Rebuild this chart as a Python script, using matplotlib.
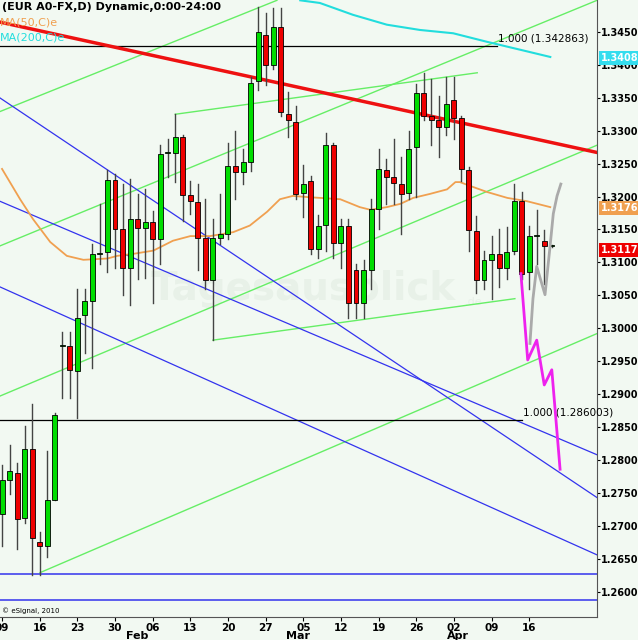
import matplotlib.pyplot as plt
import numpy as np

# daily candles, index 0 = Jan 09
opens = [1.2718, 1.2769, 1.2781, 1.2712, 1.2817, 1.2675, 1.2669, 1.2740, 1.2973, 1.2973,
         1.2935, 1.3020, 1.3041, 1.3113, 1.3116, 1.3225, 1.3151, 1.3091, 1.3166, 1.3153,
         1.3162, 1.3136, 1.3266, 1.3266, 1.3290, 1.3202, 1.3192, 1.3137, 1.3073, 1.3137,
         1.3143, 1.3246, 1.3237, 1.3252, 1.3376, 1.3445, 1.3400, 1.3458, 1.3326, 1.3314,
         1.3205, 1.3224, 1.3121, 1.3157, 1.3279, 1.3130, 1.3156, 1.3088, 1.3038, 1.3088,
         1.3181, 1.3240, 1.3230, 1.3219, 1.3205, 1.3276, 1.3358, 1.3322, 1.3317, 1.3305,
         1.3347, 1.3319, 1.3240, 1.3148, 1.3073, 1.3104, 1.3113, 1.3091, 1.3118, 1.3193,
         1.3085, 1.3140, 1.3133, 1.3125]
highs = [1.2793, 1.2823, 1.2796, 1.2852, 1.2885, 1.2690, 1.2814, 1.2872, 1.2994, 1.2994,
         1.3060, 1.3060, 1.3128, 1.3189, 1.3240, 1.3234, 1.3219, 1.3227, 1.3204, 1.3211,
         1.3178, 1.3279, 1.3287, 1.3325, 1.3294, 1.3224, 1.3219, 1.3196, 1.3166, 1.3204,
         1.3282, 1.3299, 1.3272, 1.3382, 1.3488, 1.3479, 1.3486, 1.3486, 1.3359, 1.3338,
         1.3248, 1.3231, 1.3172, 1.3297, 1.3282, 1.3166, 1.3166, 1.3098, 1.3103, 1.3196,
         1.3272, 1.3257, 1.3287, 1.3260, 1.3299, 1.3371, 1.3388, 1.3378, 1.3352, 1.3381,
         1.3382, 1.3322, 1.3245, 1.3171, 1.3118, 1.3140, 1.3151, 1.3154, 1.3219, 1.3207,
         1.3156, 1.3180, 1.3150, 1.3126]
lows = [1.2669, 1.2748, 1.2665, 1.2704, 1.2626, 1.2626, 1.2653, 1.2740, 1.2894, 1.2894,
        1.2864, 1.2962, 1.2940, 1.3098, 1.3086, 1.3091, 1.3050, 1.3035, 1.3075, 1.3077,
        1.3038, 1.3098, 1.3230, 1.3222, 1.3163, 1.3174, 1.3088, 1.3060, 1.2982, 1.3128,
        1.3136, 1.3196, 1.3219, 1.3239, 1.3362, 1.3370, 1.3393, 1.3322, 1.3291, 1.3196,
        1.3169, 1.3113, 1.3106, 1.3118, 1.3106, 1.3091, 1.3015, 1.3015, 1.3015, 1.3060,
        1.3151, 1.3189, 1.3189, 1.3143, 1.3196, 1.3199, 1.3317, 1.3279, 1.3260, 1.3294,
        1.3287, 1.3224, 1.3118, 1.3053, 1.3060, 1.3045, 1.3063, 1.3075, 1.3113, 1.3075,
        1.3060, 1.3098, 1.3068, 1.3124]
closes = [1.2769, 1.2783, 1.2710, 1.2817, 1.2681, 1.2669, 1.2739, 1.2869, 1.2974, 1.2937,
          1.3015, 1.3041, 1.3113, 1.3114, 1.3225, 1.3151, 1.3091, 1.3166, 1.3153, 1.3162,
          1.3136, 1.3264, 1.3267, 1.3291, 1.3202, 1.3193, 1.3137, 1.3073, 1.3137, 1.3143,
          1.3246, 1.3237, 1.3252, 1.3373, 1.3450, 1.3400, 1.3458, 1.3329, 1.3317, 1.3204,
          1.3219, 1.3121, 1.3156, 1.3279, 1.3130, 1.3156, 1.3038, 1.3038, 1.3088, 1.3181,
          1.3242, 1.3230, 1.3220, 1.3204, 1.3273, 1.3358, 1.3322, 1.3317, 1.3305, 1.3340,
          1.3320, 1.3242, 1.3150, 1.3073, 1.3103, 1.3113, 1.3091, 1.3116, 1.3193, 1.3083,
          1.3140, 1.3141, 1.3125, 1.3125]

ma50_x = [0, 2.4, 4.1, 6.4, 8.6, 10.8, 14.0, 15.3, 17.4, 20.1, 22.7, 25.0, 27.6, 30.7, 32.9, 35.2, 36.9,
          38.6, 40.9, 44.9, 47.5, 48.9, 51.1, 52.9, 54.6, 56.8, 59.1, 60.2, 60.8, 62.2, 64.4, 67.1, 69.7, 72.8]
ma50_y = [1.3242, 1.3196, 1.3166, 1.3131, 1.3110, 1.3104, 1.3106, 1.3110, 1.3113, 1.3118, 1.3133, 1.3140,
          1.3140, 1.3146, 1.3156, 1.3177, 1.3196, 1.3201, 1.3199, 1.3196, 1.3184, 1.3180, 1.3184, 1.3189,
          1.3198, 1.3204, 1.3211, 1.3222, 1.3222, 1.3216, 1.3207, 1.3198, 1.3193, 1.3184]
ma200_x = [39.6, 42.2, 46.6, 51.1, 55.5, 59.9, 64.4, 68.8, 72.8]
ma200_y = [1.3498, 1.3494, 1.3476, 1.3461, 1.3453, 1.3448, 1.3435, 1.3423, 1.3412]

gray_x = [70.1, 70.5, 71.0, 72.1, 72.8, 73.2, 73.7, 74.2]
gray_y = [1.2977, 1.3045, 1.3094, 1.3051, 1.3128, 1.3174, 1.3201, 1.3219]
pink_x = [68.9, 69.8, 71.0, 72.0, 73.0, 74.1]
pink_y = [1.3083, 1.2952, 1.2982, 1.2914, 1.2937, 1.2786]

# trend lines: (x0, y0, x1, y1)
red_line = (-0.3, 1.3465, 79.0, 1.3267)
green_lines = [(-0.3, 1.3329, 36.5, 1.3498), (-0.3, 1.3125, 79.0, 1.3498),
               (-0.3, 1.2897, 79.0, 1.3278), (5.05, 1.2629, 79.0, 1.2992),
               (23.0, 1.3325, 63.1, 1.3388), (28.0, 1.2982, 68.1, 1.3045)]
blue_lines = [(-0.3, 1.3350, 79.0, 1.2743), (-0.3, 1.3193, 79.0, 1.2808),
              (-0.3, 1.3063, 79.0, 1.2656)]
blue_levels = [1.2627, 1.2587]
fib_levels = [(1.342863, 65.7, '1.000 (1.342863)'), (1.286003, 69.0, '1.000 (1.286003)')]

day_idx = [0, 5, 10, 15, 20, 25, 30, 35, 40, 45, 50, 55, 60, 65, 70]
day_labels = ['09', '16', '23', '30', '06', '13', '20', '27', '05', '12', '19', '26', '02', '09', '16']
month_idx = [18, 39.3, 60.5]
month_labels = ['Feb', 'Mar', 'Apr']

ymin, ymax = 1.25617, 1.34985
xmin, xmax = -0.27, 79.0
bg = '#f2f9f2'

fig = plt.figure(figsize=(6.38, 6.4), dpi=100, facecolor=bg)
ax = fig.add_axes([0, 0.036, 0.9357, 0.964], facecolor=bg)
ax.set_xlim(xmin, xmax)
ax.set_ylim(ymin, ymax)

ax.text(40, 1.3060, 'Tagesausblick', fontsize=28, fontweight='bold', color='#e8f1e8',
        ha='center', va='center', zorder=0)
ax.text(61.5, 1.3035, '.de', fontsize=8, color='#e8f1e8', zorder=0)

for x0, y0, x1, y1 in green_lines:
    ax.plot([x0, x1], [y0, y1], color='#66ee66', lw=1, zorder=1)
for x0, y0, x1, y1 in blue_lines:
    ax.plot([x0, x1], [y0, y1], color='#3333ee', lw=0.9, zorder=1)
for lv in blue_levels:
    ax.axhline(lv, color='#3333ee', lw=1.1, zorder=1)
for lv, xe, txt in fib_levels:
    ax.plot([xmin, xe], [lv, lv], color='black', lw=0.9, zorder=1)
    ax.text(xe + 0.2, lv + 0.0004, txt, fontsize=7.5, va='bottom', ha='left')
ax.plot([red_line[0], red_line[2]], [red_line[1], red_line[3]], color='#ee1111', lw=2.5, zorder=2)
ax.plot(ma200_x, ma200_y, color='#22dddd', lw=1.5, zorder=2)
ax.plot(ma50_x, ma50_y, color='#f0a050', lw=1.3, zorder=2)

w = 0.66
for i, (o, h, l, c) in enumerate(zip(opens, highs, lows, closes)):
    ax.plot([i, i], [l, h], color='#444444', lw=1, zorder=3)
    col = '#00dd00' if c >= o else '#ee0000'
    bottom = min(o, c)
    height = max(abs(c - o), 0.00012)
    ax.add_patch(plt.Rectangle((i - w / 2, bottom), w, height, facecolor=col,
                               edgecolor='black', lw=0.6, zorder=4))

ax.plot(gray_x, gray_y, color='#aaaaaa', lw=2, zorder=5)
ax.plot(pink_x, pink_y, color='#ee22ee', lw=2, zorder=5)

ax.yaxis.tick_right()
yt = np.arange(1.260013, 1.3451, 0.005)
ax.set_yticks(yt)
ax.set_yticklabels(['%.6f' % v for v in yt], fontsize=7, fontweight='bold')
ax.tick_params(axis='y', length=2, pad=1)
ax.set_xticks(day_idx)
ax.set_xticklabels(day_labels, fontsize=7.5, fontweight='bold')
ax.tick_params(axis='x', length=3, pad=1)
for mx, ml in zip(month_idx, month_labels):
    ax.text(mx, -0.022, ml, transform=ax.get_xaxis_transform(), fontsize=8,
            fontweight='bold', ha='center', va='top')
for spine in ['top', 'left']:
    ax.spines[spine].set_visible(False)
ax.spines['right'].set_color('#555555')
ax.spines['bottom'].set_color('#555555')

tag_kw = dict(transform=ax.get_yaxis_transform(), fontsize=7, fontweight='bold', va='center', ha='left')
ax.text(1.006, 1.3411, '1.34083', color='white', bbox=dict(boxstyle='square,pad=0.2', fc='#33ddee', ec='none'), **tag_kw)
ax.text(1.006, 1.3183, '1.317618', color='white', bbox=dict(boxstyle='square,pad=0.2', fc='#f0a050', ec='none'), **tag_kw)
ax.text(1.006, 1.3119, '1.31176', color='white', bbox=dict(boxstyle='square,pad=0.2', fc='#ee0000', ec='none'), **tag_kw)

ax.text(0.003, 0.997, '(EUR A0-FX,D) Dynamic,0:00-24:00', transform=ax.transAxes, fontsize=8,
        fontweight='bold', va='top')
ax.text(0.0, 0.972, 'MA(50,C)e', transform=ax.transAxes, fontsize=8, color='#f0a050', va='top')
ax.text(0.0, 0.948, 'MA(200,C)e', transform=ax.transAxes, fontsize=8, color='#22dddd', va='top')
ax.text(0.003, 0.005, '© eSignal, 2010', transform=ax.transAxes, fontsize=5, va='bottom')

fig.savefig('out.png', dpi=100, facecolor=bg)
